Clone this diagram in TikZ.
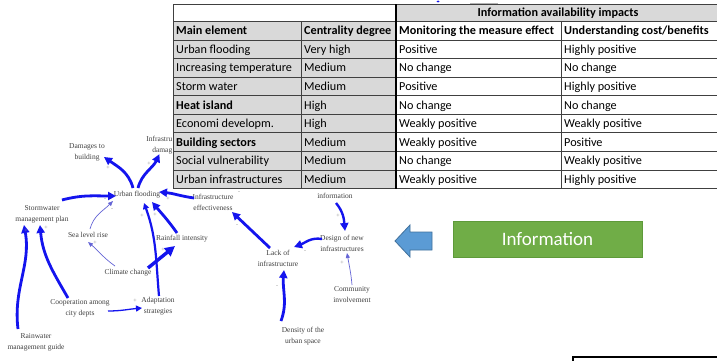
\documentclass[tikz,border=0pt]{standalone}
\usepackage{fontspec}
\setmainfont{Liberation Serif}
\newfontfamily\calibri{Carlito}
\usetikzlibrary{arrows.meta}
\definecolor{cldblue}{HTML}{1414EE}
\definecolor{thinblue}{HTML}{6464D6}
\definecolor{cellgray}{HTML}{D9D9D9}
\definecolor{arrfill}{HTML}{5B9BD5}
\definecolor{arrline}{HTML}{41719C}
\definecolor{boxgreen}{HTML}{70AD47}
\definecolor{boxline}{HTML}{5E9A3A}
\begin{document}
\begin{tikzpicture}[x=1pt,y=1pt,
  cld/.style={font=\fontsize{7.5}{11}\selectfont, text=black!75, align=center, inner sep=0pt},
  bigarr/.style={draw=cldblue, line width=2.8pt, -{Triangle[length=8pt,width=8pt]}},
  midarr/.style={draw=cldblue, line width=1.6pt, -{Triangle[length=6pt,width=6pt]}},
  thinarr/.style={draw=thinblue, line width=0.7pt, -{Triangle[length=5pt,width=4pt]}},
  sgn/.style={font=\fontsize{6}{6}\selectfont, text=black!45, inner sep=0pt},
  cell/.style={font=\calibri\fontsize{12.2}{14}\selectfont, anchor=base west, inner sep=0pt},
  hcell/.style={cell, font=\calibri\bfseries\fontsize{12.2}{14}\selectfont},
  tline/.style={draw=black!75, line width=0.8pt}]
\useasboundingbox (0,0) rectangle (717,-361);
\fill[white] (0,0) rectangle (717,-361);

% ---------- causal loop diagram ----------
\node[cld] (dmg)  at (87,-152)  {Damages to\\building};
\node[cld, align=right, anchor=east] (infd) at (172.5,-145) {Infrastru\\damag};
\node[cld] (uf)   at (137,-195) {Urban flooding};
\node[cld] (smp)  at (42,-214)  {Stormwater\\management plan};
\node[cld] (ie)   at (213,-202) {Infrastructure\\effectiveness};
\node[cld] (slr)  at (88,-235)  {Sea level rise};
\node[cld] (ri)   at (182,-239) {Rainfall intensity};
\node[cld] (cc)   at (128,-273) {Climate change};
\node[cld] (coop) at (80,-308)  {Cooperation among\\city depts};
\node[cld] (as)   at (158,-306) {Adaptation\\strategies};
\node[cld] (rmg)  at (36,-342)  {Rainwater\\management guide};
\node[cld] (info) at (335,-196) {information};
\node[cld] (dni)  at (342,-243) {Design of new\\infrastructures};
\node[cld] (li)   at (278,-258) {Lack of\\infrastructure};
\node[cld] (ci)   at (352,-295) {Community\\involvement};
\node[cld] (dus)  at (303,-336) {Density of the\\urban space};

\draw[bigarr] ([shift={(-4,7)}]uf.center) to[out=105,in=-35] ([shift={(17,-5)}]dmg.center);
\draw[bigarr] ([shift={(1,7)}]uf.center) to[out=75,in=-115] (infd.south);
\draw[bigarr] ([shift={(20,14)}]smp.center) to[out=15,in=180] ([shift={(-21,-1)}]uf.center);
\draw[thinarr] ([shift={(2,6)}]slr.center) to[out=75,in=-135] ([shift={(-24,-6)}]uf.center);
\draw[bigarr] ([shift={(-19,4)}]ie.center) to[out=172,in=-5] ([shift={(22,3)}]uf.center);
\draw[bigarr] ([shift={(-5,6)}]ri.center) to[out=125,in=-50] ([shift={(15,-7)}]uf.center);
\draw[midarr, line width=2.2pt] ([shift={(1,10)}]as.center) to[out=95,in=-70] ([shift={(7,-8)}]uf.center);
\draw[bigarr, line width=3.4pt, -{Triangle[length=10pt,width=10pt]}] ([shift={(20,5)}]cc.center) -- ([shift={(-7,-7)}]ri.center);
\draw[thinarr] ([shift={(-13,7)}]cc.center) to[out=145,in=-40] ([shift={(0,-7)}]slr.center);
\draw[midarr, line width=1.3pt] ([shift={(28,-3)}]coop.center) to[out=0,in=185] ([shift={(-16,-2)}]as.center);
\draw[bigarr] ([shift={(-12,10)}]coop.center) to[out=120,in=-85] ([shift={(-2,-11)}]smp.center);
\draw[bigarr] ([shift={(-18,13)}]rmg.center) to[out=97,in=-80] ([shift={(-18,-11)}]smp.center);
\draw[bigarr, line width=2.4pt] ([shift={(1,-7)}]info.center) to[out=-50,in=95] ([shift={(3,12)}]dni.center);
\draw[bigarr, line width=2.4pt] ([shift={(-20,4)}]dni.center) to[out=170,in=20] ([shift={(16,11)}]li.center);
\draw[bigarr] ([shift={(-8,10)}]li.center) -- ([shift={(19,-10)}]ie.center);
\draw[thinarr] ([shift={(0,10)}]ci.center) to[out=95,in=-80] ([shift={(5,-10)}]dni.center);
\draw[bigarr] ([shift={(-22,15)}]dus.center) to[out=70,in=-95] ([shift={(6,-12)}]li.center);

\node[sgn] (s1)  at (108,-168) {+};
\node[sgn] (s2)  at (149,-164) {+};
\node[sgn] (s3)  at (105,-200) {-};
\node[sgn] (s4)  at (112,-210) {-};
\node[sgn] (s5)  at (168,-199) {+};
\node[sgn] (s6)  at (155,-215) {+};
\node[sgn] (s7)  at (142,-216) {+};
\node[sgn] (s8)  at (163,-250) {+};
\node[sgn] (s9)  at (95,-243)  {+};
\node[sgn] (s10) at (135,-301) {+};
\node[sgn] (s11) at (46,-228)  {+};
\node[sgn] (s12) at (26,-231)  {+};
\node[sgn] (s13) at (338,-216) {+};
\node[sgn] (s14) at (305,-252) {-};
\node[sgn] (s15) at (237,-226) {-};
\node[sgn] (s16) at (342,-263) {+};
\node[sgn] (s17) at (277,-287) {-};
\node[sgn] (s18) at (239,-193) {-};

% fragments at the top edge
\fill[cldblue] (438,-1.5) ellipse (1.5 and 1);
\draw[black!30, line width=0.6pt] (470,-3) -- (498,-3);

% ---------- table ----------
\fill[white] (173,-4.5) rectangle (720,-188.5);
\fill[cellgray] (173,-21.5) rectangle (396,-188.5);
\fill[cellgray] (396,-4.5) rectangle (720,-21.5);
\foreach \yy in {21.5,40,58.6,77.2,95.7,114.3,132.8,151.4,169.9}
  \draw[tline] (173,-\yy) -- (720,-\yy);
\draw[tline] (173,-4.5) rectangle (720,-188.5);
\draw[tline] (301,-21.5) -- (301,-188.5);
\draw[tline] (561,-21.5) -- (561,-188.5);
\draw[black, line width=1.8pt] (396,-4.5) -- (396,-188.5);

\node[hcell, anchor=base] (hinfo) at (558,-17) {Information availability impacts};
\node[hcell] (hmain) at (176,-34.75) {Main element};
\node[hcell] (hcent) at (304,-34.75) {Centrality degree};
\node[hcell] (hmon)  at (399,-34.75) {Monitoring the measure effect};
\node[hcell] (hund)  at (564,-34.75) {Understanding cost/benefits};

\foreach \n/\ta/\tb/\tc/\td/\yc in {
  1/Urban flooding/Very high/Positive/Highly positive/49.3,
  2/Increasing temperature/Medium/No change/No change/67.9,
  3/Storm water/Medium/Positive/Highly positive/86.45,
  4/{\bfseries Heat island}/High/No change/No change/105,
  5/Economi developm./High/Weakly positive/Weakly positive/123.55,
  6/{\bfseries Building sectors}/Medium/Weakly positive/Positive/142.05,
  7/Social vulnerability/Medium/No change/Weakly positive/160.6,
  8/Urban infrastructures/Medium/Weakly positive/Highly positive/179.2}{
  \node[cell] (ra\n) at (176,-\yc-4) {\ta};
  \node[cell] (rb\n) at (304,-\yc-4) {\tb};
  \node[cell] (rc\n) at (399,-\yc-4) {\tc};
  \node[cell] (rd\n) at (564,-\yc-4) {\td};
}

% ---------- blue arrow and green box ----------
\filldraw[fill=arrfill, draw=arrline, line width=0.8pt]
  (395,-241) -- (410,-225) -- (410,-232) -- (432,-232) -- (432,-250)
  -- (410,-250) -- (410,-257) -- cycle;
\node[draw=boxline, fill=boxgreen, line width=0.6pt, minimum width=189pt, minimum height=36pt,
  text=white, font=\calibri\fontsize{19}{22}\selectfont] (infobox) at (547.5,-239) {Information};

% bottom-right frame corner
\draw[black, line width=1.5pt] (573,-366) -- (573,-357) -- (720,-357);
\end{tikzpicture}
\end{document}
